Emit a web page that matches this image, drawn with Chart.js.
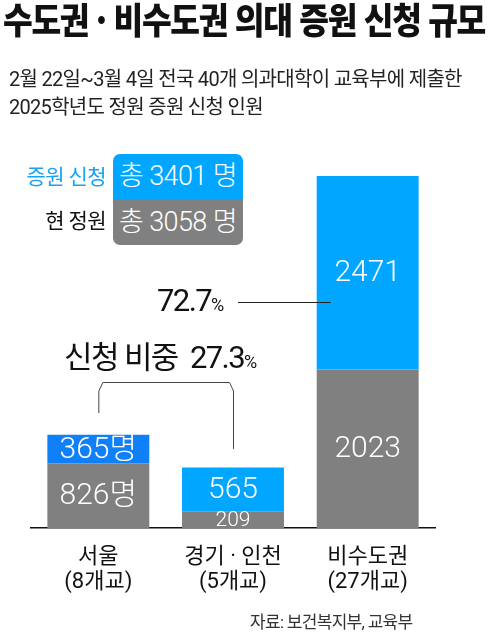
<!DOCTYPE html>
<html lang="ko">
<head>
<meta charset="utf-8">
<script src="https://cdn.jsdelivr.net/npm/chart.js@4.4.1/dist/chart.umd.min.js"></script>
<style>
  body { margin: 0; background: #fff; font-family: Roboto, "Noto Sans CJK KR", sans-serif; }
  #wrap { position: relative; width: 488px; height: 637px; overflow: hidden; }
  #chart { position: absolute; left: 0; top: 0; }
  .t { position: absolute; white-space: nowrap; line-height: 1; }
  .title { left: 3px; top: 0px; font-family: "Noto Sans CJK KR", sans-serif; font-size: 36px; font-weight: 900; letter-spacing: -1.5px; color: #111; transform-origin: 0 0; }
  .sub { left: 9px; font-size: 20px; color: #222; letter-spacing: -0.7px; }
  .legend-box { position: absolute; left: 113px; top: 154px; width: 130px; height: 91px; border-radius: 7px; overflow: hidden; }
  .legend-box div { height: 45.5px; color: #fff; font-size: 27px; line-height: 45.5px; text-align: center; letter-spacing: -0.6px; font-weight: 300; }
  .lg { font-size: 21px; letter-spacing: -0.6px; text-align: right; width: 100px; left: 6px; }
  .pct { font-size: 31px; letter-spacing: -1.6px; color: #111; }
  .pct small { font-size: 18px; letter-spacing: 0; }
  .src { left: 250px; top: 614px; font-size: 17px; color: #333; letter-spacing: -0.7px; }
</style>
</head>
<body>
<div id="wrap">
  <canvas id="chart" width="488" height="637"></canvas>
  <div class="t title" id="title">수도권 · 비수도권 의대 증원 신청 규모</div>
  <div class="t sub" style="top:69px">2월 22일~3월 4일 전국 40개 의과대학이 교육부에 제출한</div>
  <div class="t sub" style="top:97px">2025학년도 정원 증원 신청 인원</div>

  <div class="t lg" style="top:167px;color:#19a3f0">증원 신청</div>
  <div class="t lg" style="top:211px;color:#111">현 정원</div>
  <div class="legend-box">
    <div id="totApply" style="background:#00a6ff"></div>
    <div id="totNow" style="background:#808080"></div>
  </div>

  <div class="t pct" style="left:157px;top:285px">72.7<small>%</small></div>
  <div class="t pct" style="left:64px;top:342px">신청 비중&nbsp; 27.3<small>%</small></div>

  <div class="t src">자료: 보건복지부, 교육부</div>
</div>

<script>
// Data
const regions = [["서울", "(8개교)"], ["경기 · 인천", "(5개교)"], ["비수도권", "(27개교)"]];
const currentQuota = [826, 209, 2023];
const applied = [365, 565, 2471];
const labelUnits = ["명", "", ""];
const totalApplied = 3401;
const totalCurrent = 3058;

const GRAY = "#808080";
const BLUE = "#00a6ff";
const SEOUL_BLUE = "#1080f8";
const FONT = 'Roboto, "Noto Sans CJK KR", sans-serif';

document.getElementById("totApply").textContent = `총 ${totalApplied} 명`;
document.getElementById("totNow").textContent = `총 ${totalCurrent} 명`;

// squeeze the heavy title to the page width like the original
const title = document.getElementById("title");
title.style.transform = `scaleX(${482 / title.getBoundingClientRect().width})`;

const maxTotal = Math.max(...currentQuota.map((v, i) => v + applied[i]));

// Labels inside bars + annotation lines
const overlay = {
  id: "overlay",
  afterDatasetsDraw(chart) {
    const { ctx } = chart;
    ctx.save();
    ctx.fillStyle = "#fff";
    ctx.textAlign = "center";
    ctx.textBaseline = "middle";
    chart.data.datasets.forEach((ds, di) => {
      chart.getDatasetMeta(di).data.forEach((bar, i) => {
        const size = (di === 0 && i === 1) ? 21 : 30;
        ctx.font = `300 ${size}px ${FONT}`;
        const mid = (bar.y + bar.base) / 2;
        ctx.fillText(ds.data[i] + labelUnits[i], bar.x, mid + 1);
      });
    });

    // 72.7% leader line
    const x = chart.scales.x;
    const bigBar = chart.getDatasetMeta(1).data[2];
    ctx.strokeStyle = "#222";
    ctx.lineWidth = 1;
    ctx.beginPath();
    ctx.moveTo(238, 302.5);
    ctx.lineTo(bigBar.x - 37, 302.5);
    ctx.stroke();

    // bracket over capital-area bars
    const l = x.getPixelForValue(0), r = x.getPixelForValue(1);
    ctx.strokeStyle = "#444";
    ctx.beginPath();
    ctx.moveTo(l + 0.5, 413);
    ctx.lineTo(l + 0.5, 391);
    ctx.lineTo(l + 4.5, 382.5);
    ctx.lineTo(r - 3.5, 382.5);
    ctx.lineTo(r + 0.5, 391);
    ctx.lineTo(r + 0.5, 449);
    ctx.stroke();
    ctx.restore();
  }
};

new Chart(document.getElementById("chart"), {
  type: "bar",
  data: {
    labels: regions,
    datasets: [
      { label: "현 정원", data: currentQuota, backgroundColor: GRAY },
      { label: "증원 신청", data: applied, backgroundColor: [SEOUL_BLUE, BLUE, BLUE] }
    ]
  },
  options: {
    responsive: false,
    animation: false,
    events: [],
    layout: { padding: { left: 31, right: 53, top: 176, bottom: 0 } },
    datasets: { bar: { categoryPercentage: 1, barPercentage: 0.757, borderWidth: 0 } },
    plugins: { legend: { display: false }, tooltip: { enabled: false } },
    scales: {
      x: {
        stacked: true,
        grid: { display: false },
        border: { color: "#111", width: 1.5 },
        ticks: {
          color: "#111",
          padding: 9,
          font: { family: FONT, size: 22, lineHeight: 1.15 }
        },
        afterFit: s => { s.height = 109; }
      },
      y: { stacked: true, display: false, min: 0, max: maxTotal }
    }
  },
  plugins: [overlay]
});
</script>
</body>
</html>
